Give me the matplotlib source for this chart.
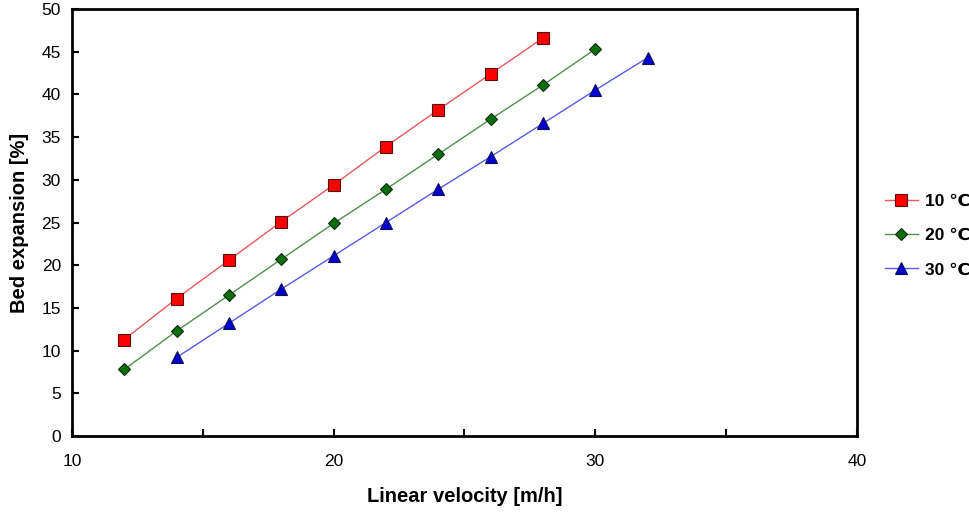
import matplotlib
matplotlib.use('Agg')
import matplotlib.pyplot as plt

plt.rcParams['font.family'] = ['Liberation Sans', 'DejaVu Sans']

# Data
x10 = [12, 14, 16, 18, 20, 22, 24, 26, 28]
y10 = [11.3, 16.1, 20.6, 25.1, 29.4, 33.9, 38.2, 42.4, 46.6]

x20 = [12, 14, 16, 18, 20, 22, 24, 26, 28, 30]
y20 = [7.8, 12.3, 16.5, 20.7, 24.9, 28.9, 33.0, 37.1, 41.1, 45.3]

x30 = [14, 16, 18, 20, 22, 24, 26, 28, 30, 32]
y30 = [9.2, 13.2, 17.2, 21.1, 25.0, 28.9, 32.7, 36.6, 40.5, 44.3]

labels = ['10 \u2103', '20 \u2103', '30 \u2103']

xlabel = 'Linear velocity [m/h]'
ylabel = 'Bed expansion [%]'


def main():
    fig = plt.figure(figsize=(9.69, 5.12), dpi=100)
    ax = fig.add_axes([0.0743, 0.1484, 0.8100, 0.8340])

    ax.plot(x10, y10, color='#e8585e', lw=1, marker='s', ms=8,
            mfc='#ff0000', mec='#5a1010', mew=0.8, label=labels[0])
    ax.plot(x20, y20, color='#4f8f4f', lw=1, marker='D', ms=6.5,
            mfc='#0a6e0a', mec='#102a10', mew=0.8, label=labels[1])
    ax.plot(x30, y30, color='#5a5ae6', lw=1, marker='^', ms=9,
            mfc='#0000d0', mec='#101050', mew=0.8, label=labels[2])

    ax.set_xlim(10, 40)
    ax.set_ylim(0, 50)
    ax.set_xticks([10, 20, 30, 40])
    ax.set_xticks([15, 25, 35], minor=True)
    ax.set_yticks(range(0, 51, 5))

    for s in ax.spines.values():
        s.set_linewidth(2)
    ax.tick_params(axis='both', which='both', direction='in', width=1.5,
                   labelsize=12.5)
    ax.tick_params(axis='both', which='major', length=5)
    ax.tick_params(axis='x', which='minor', length=5)
    ax.tick_params(axis='x', pad=13)
    ax.tick_params(axis='y', pad=8)

    ax.set_xlabel(xlabel, fontsize=14.5, fontweight='bold', labelpad=13)
    ax.set_ylabel(ylabel, fontsize=14.5, fontweight='bold', labelpad=9)

    fig.legend(loc='center left', bbox_to_anchor=(0.897, 0.54),
               frameon=False, prop={'weight': 'bold', 'size': 12.5},
               handlelength=1.9, handletextpad=0.4, labelspacing=1.1)

    fig.savefig('out.png', dpi=100, facecolor='w')


if __name__ == '__main__':
    main()
